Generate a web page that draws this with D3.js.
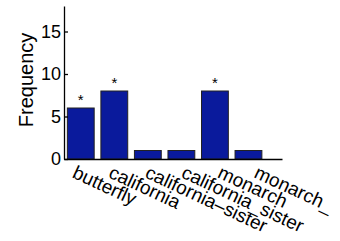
<!DOCTYPE html>
<html>
<head>
<meta charset="utf-8">
<script src="https://cdn.jsdelivr.net/npm/d3@7"></script>
<style>
body { margin: 0; background: #fff; }
text { font-family: "Liberation Sans", Arial, sans-serif; }
</style>
</head>
<body>
<svg id="mysvg"></svg>
<script>
const categories = ["butterfly", "california", "california\u2013sister", "california_sister", "monarch", "monarch_"];
const counts = [6, 8, 1, 1, 8, 1];
const marked = [true, true, false, false, true, false];
const yticks = [0, 5, 10, 15];

const w = 340, h = 241;

const svg = d3.select("#mysvg")
    .attr("width", w)
    .attr("height", h);

const xScale = d3.scaleLinear()
    .domain([0.5, 7])
    .range([64, 282]);

const yScale = d3.scaleLinear()
    .domain([0, 18])
    .range([159, 6]);

const barW = xScale(1.3) - xScale(0.5);

// bars
svg.selectAll(".bar")
    .data(counts)
    .enter().append("rect")
    .attr("class", "bar")
    .attr("x", (d, i) => xScale(i + 1) - barW / 2)
    .attr("y", d => yScale(d))
    .attr("width", barW)
    .attr("height", d => yScale(0) - yScale(d))
    .attr("fill", "#0a1a9c")
    .attr("stroke", "#222")
    .attr("stroke-width", 1);

// significance markers
svg.selectAll(".star")
    .data(counts)
    .enter().append("text")
    .attr("class", "star")
    .attr("x", (d, i) => xScale(i + 1))
    .attr("y", d => yScale(d) - 3)
    .attr("text-anchor", "middle")
    .attr("font-size", 15)
    .text((d, i) => marked[i] ? "*" : "");

// Create Y axis
svg.append("g")
    .attr("class", "y axis")
    .attr("transform", "translate(" + xScale(0.5) + ",0)")
    .call(d3.axisLeft(yScale).tickValues(yticks).tickSizeInner(-4).tickSizeOuter(0).tickPadding(3))
    .call(g => g.selectAll("text").attr("font-size", 18).attr("fill", "#000"))
    .call(g => g.selectAll("line, path").attr("stroke", "#000").attr("stroke-width", 1.3));

// Create X axis
svg.append("g")
    .attr("class", "x axis")
    .attr("transform", "translate(0," + yScale(0) + ")")
    .call(d3.axisBottom(xScale).tickValues([]).tickSizeOuter(0))
    .call(g => g.select("path").attr("stroke", "#000").attr("stroke-width", 1.3));

// rotated category labels
svg.selectAll(".xlabel")
    .data(categories)
    .enter().append("text")
    .attr("class", "xlabel")
    .attr("transform", (d, i) => "translate(" + (xScale(i + 1) - 9.5 + i * 2.8) + "," + (yScale(0) + 18) + ") rotate(25)")
    .attr("font-size", 19)
    .text(d => d);

svg.append("text")
    .attr("transform", "translate(33," + yScale(9.3) + ") rotate(-90)")
    .attr("text-anchor", "middle")
    .attr("font-size", 20)
    .text("Frequency");
</script>
</body>
</html>
